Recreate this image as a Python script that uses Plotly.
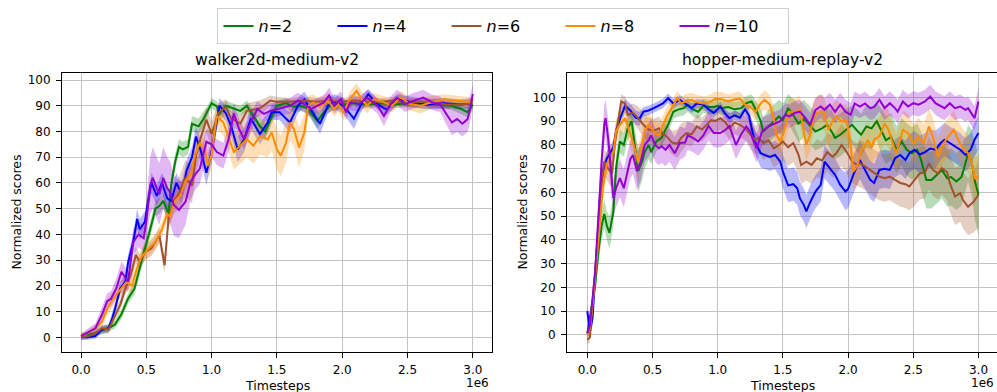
import plotly.graph_objects as go

# ---------------- data (timesteps in 1e6, normalized score, band half-width) ----------------
SERIES_NAMES = ["n=2", "n=4", "n=6", "n=8", "n=10"]
SERIES_LABELS = ["<i>n</i>=2", "<i>n</i>=4", "<i>n</i>=6", "<i>n</i>=8", "<i>n</i>=10"]
SERIES_COLORS = ["#008000", "#0000ff", "#a0522d", "#ff8c00", "#9400d3"]
SUBPLOT_TITLES = ["walker2d-medium-v2", "hopper-medium-replay-v2"]
X_TICKS = [0.0, 0.5, 1.0, 1.5, 2.0, 2.5, 3.0]
X_TICK_LABELS = ["0.0", "0.5", "1.0", "1.5", "2.0", "2.5", "3.0"]
Y_TICKS = [0, 10, 20, 30, 40, 50, 60, 70, 80, 90, 100]

W_N2 = [(0.00, 0.5, 1), (0.05, 1, 1), (0.10, 1.5, 1), (0.15, 2.5, 1.5), (0.21, 3.5, 1.5), (0.26, 5, 1.5),
        (0.31, 9, 2), (0.36, 15, 2), (0.41, 19, 2.5), (0.46, 29, 3), (0.50, 36, 3), (0.53, 42, 3),
        (0.57, 50, 3), (0.60, 51, 3), (0.63, 53, 3), (0.67, 48, 3), (0.69, 59, 3), (0.72, 68, 3),
        (0.75, 74, 3), (0.78, 73, 3), (0.82, 74, 3), (0.85, 83, 3), (0.90, 82, 3), (0.94, 85, 3),
        (0.97, 88, 2), (1.00, 91, 2), (1.04, 89.7, 2), (1.06, 87, 2), (1.11, 90, 2), (1.16, 89, 2),
        (1.22, 88, 2), (1.27, 90, 2), (1.32, 86, 2.5), (1.37, 82, 3), (1.41, 80, 3), (1.45, 84.5, 3),
        (1.50, 90, 2), (1.57, 91, 2), (1.63, 89.5, 2), (1.68, 90, 2), (1.73, 89, 2), (1.81, 84, 3),
        (1.86, 87.5, 2), (1.91, 90, 2), (2.00, 90.5, 1.5), (2.10, 91, 1.5), (2.20, 90.5, 1.5),
        (2.30, 91, 1.5), (2.40, 90.5, 1.5), (2.50, 91, 1.5), (2.60, 90.5, 1.5), (2.70, 90.5, 1.5),
        (2.83, 90, 1.5), (2.90, 89, 2), (2.96, 87.5, 2), (3.00, 90.5, 2)]

W_N4 = [(0.00, 0, 1), (0.05, 0, 1), (0.11, 0.5, 1), (0.16, 3, 1.5), (0.21, 3.5, 1.5), (0.24, 7.5, 2),
        (0.26, 11, 2), (0.30, 19, 2.5), (0.34, 21.6, 3), (0.36, 29, 3), (0.40, 37, 3.5), (0.43, 46, 4),
        (0.45, 42, 4), (0.49, 45, 4), (0.52, 55, 4), (0.54, 60, 4), (0.58, 55, 4), (0.62, 60, 4),
        (0.66, 54, 4), (0.69, 53, 4), (0.73, 60, 4), (0.77, 56, 4), (0.81, 65, 4), (0.85, 70, 4),
        (0.88, 78, 4), (0.92, 72, 4), (0.96, 64, 5), (1.00, 72, 4), (1.04, 84, 3), (1.06, 90, 3),
        (1.11, 87, 3), (1.15, 82, 4), (1.20, 73, 5), (1.25, 77, 5), (1.30, 85, 4), (1.37, 79, 4),
        (1.43, 83.5, 4), (1.46, 87.5, 3), (1.52, 87.5, 3), (1.60, 83.5, 4), (1.66, 90, 3),
        (1.71, 92.5, 3), (1.76, 88.5, 3), (1.83, 83, 4), (1.89, 90, 3), (1.94, 91.5, 3), (2.01, 90, 3),
        (2.09, 85, 4), (2.14, 90, 3), (2.20, 94.5, 2), (2.27, 90.5, 2), (2.34, 88.5, 2), (2.42, 92.5, 2),
        (2.52, 91.5, 2), (2.65, 90.5, 2), (2.78, 91, 2), (2.90, 90.5, 2), (3.00, 91, 2)]

W_N6 = [(0.00, 0, 1), (0.06, 0.5, 1), (0.11, 1.5, 1), (0.16, 3.5, 1.5), (0.21, 3, 1.5), (0.26, 8.7, 2),
        (0.30, 12.6, 2), (0.34, 19, 2.5), (0.38, 24, 3), (0.42, 32, 3), (0.45, 29.4, 3), (0.49, 33, 3),
        (0.54, 34.6, 3), (0.60, 39.7, 3), (0.62, 33, 3), (0.64, 28, 3), (0.67, 46, 4), (0.71, 53, 5),
        (0.75, 56, 6), (0.80, 62, 7), (0.85, 59, 7), (0.88, 70.5, 7), (0.92, 78, 6), (0.96, 84.6, 5),
        (1.00, 79, 5), (1.05, 87, 4), (1.11, 89.6, 3), (1.15, 85, 3), (1.22, 83, 3), (1.27, 88, 3),
        (1.37, 89, 3), (1.45, 92, 2), (1.50, 91.5, 2), (1.60, 91.5, 1.5), (1.70, 92, 1.5),
        (1.80, 91.5, 1.5), (1.90, 92, 1.5), (2.00, 91.5, 1.5), (2.10, 92, 1.5), (2.20, 91.5, 1.5),
        (2.30, 91.5, 1.5), (2.40, 92, 1.5), (2.50, 91, 1.5), (2.60, 91.5, 1.5), (2.70, 91, 1.5),
        (2.80, 90.5, 1.5), (2.90, 90.5, 1.5), (3.00, 91, 1.5)]

W_N8 = [(0.00, 1, 1), (0.03, 1, 1), (0.11, 3.5, 1.5), (0.16, 6, 2), (0.20, 11, 2.5), (0.23, 14, 3),
        (0.27, 16.5, 3), (0.31, 19, 3), (0.35, 21.6, 3), (0.39, 20, 3), (0.43, 27, 3), (0.46, 31, 3),
        (0.52, 34.6, 3), (0.57, 37, 3), (0.62, 42, 3), (0.66, 48, 3), (0.68, 47, 3), (0.72, 53, 3),
        (0.76, 55, 3), (0.80, 60.6, 3), (0.84, 63, 3), (0.87, 70.5, 3), (0.91, 75.6, 3), (0.95, 73, 4),
        (0.97, 66.6, 5), (1.00, 71, 5), (1.04, 86, 5), (1.09, 83.5, 5), (1.13, 78, 6), (1.17, 72, 7),
        (1.22, 74.5, 7), (1.27, 77, 7), (1.32, 74.5, 7), (1.37, 78, 7), (1.43, 77, 7), (1.46, 79.6, 7),
        (1.50, 73, 8), (1.53, 70.6, 8), (1.57, 75.7, 8), (1.60, 83.5, 7), (1.63, 81, 7), (1.67, 73.8, 8),
        (1.71, 79.6, 7), (1.74, 90, 4), (1.78, 91.3, 3), (1.83, 89.5, 3), (1.89, 92, 3), (1.94, 88.7, 3),
        (1.97, 90.6, 3), (2.01, 87.5, 3), (2.06, 92.5, 3), (2.11, 95.8, 3), (2.15, 92.5, 3), (2.19, 90, 3),
        (2.24, 92.5, 2.5), (2.32, 91.3, 2.5), (2.38, 90, 2.5), (2.45, 93.2, 2.5), (2.52, 90.6, 2.5),
        (2.60, 90, 3), (2.68, 91.3, 2.5), (2.78, 92.5, 2), (2.90, 91.8, 2), (3.00, 91.3, 2)]

W_N10 = [(0.00, 0.5, 1), (0.06, 2, 1.5), (0.11, 3.5, 2), (0.16, 8.7, 3), (0.20, 14, 3), (0.23, 15, 3),
         (0.27, 19, 4), (0.31, 25.5, 4), (0.34, 23, 4), (0.36, 21.6, 4), (0.40, 37, 5), (0.44, 40, 5),
         (0.48, 38.5, 5), (0.50, 45, 7), (0.53, 59, 11), (0.55, 62, 12), (0.58, 58, 12), (0.60, 55.6, 12),
         (0.63, 62, 12), (0.66, 58, 12), (0.68, 56.6, 12), (0.71, 51.5, 12), (0.75, 49.5, 11),
         (0.80, 52.7, 9), (0.84, 60.5, 7), (0.87, 63, 6), (0.91, 65.6, 6), (0.96, 76, 5), (1.00, 75, 5),
         (1.04, 72, 5), (1.09, 70.6, 5), (1.13, 77, 5), (1.17, 87, 4), (1.21, 81, 4), (1.25, 77, 4),
         (1.30, 83.5, 4), (1.35, 88.7, 3), (1.40, 86.8, 3), (1.45, 88, 3), (1.53, 89, 3), (1.60, 90, 3),
         (1.66, 92, 3), (1.71, 90.6, 3), (1.76, 88.7, 3), (1.81, 90, 3), (1.86, 91.3, 3), (1.90, 94, 3),
         (1.94, 90, 3), (1.99, 92.6, 3), (2.03, 87.4, 3), (2.06, 91.3, 3), (2.13, 90.6, 3), (2.19, 93.2, 3),
         (2.27, 90, 3), (2.32, 86, 4), (2.37, 90.6, 3), (2.42, 93.2, 3), (2.48, 90.6, 3), (2.55, 92, 3),
         (2.62, 93.2, 3), (2.69, 91.3, 3), (2.75, 90.6, 3), (2.79, 87.4, 4), (2.84, 83.5, 5),
         (2.88, 84.8, 5), (2.92, 83, 5), (2.96, 84.8, 5), (2.98, 88.7, 5), (3.00, 94.5, 4)]

H_N2 = [(0.00, 0.7, 2), (0.02, 7, 3), (0.06, 21, 4), (0.085, 35, 5), (0.11, 46, 6), (0.13, 51, 6),
        (0.15, 46, 6), (0.17, 43, 7), (0.20, 52, 6), (0.22, 70, 6), (0.25, 81.5, 5), (0.28, 80, 5),
        (0.31, 87, 5), (0.34, 90, 5), (0.37, 77, 7), (0.39, 69, 9), (0.42, 73, 8), (0.44, 77, 7),
        (0.47, 80, 6), (0.49, 77, 5), (0.53, 81.5, 4), (0.57, 83, 4), (0.60, 86.4, 4), (0.62, 88.5, 3),
        (0.66, 94, 3), (0.70, 95, 3), (0.74, 95.5, 3), (0.77, 97, 3), (0.81, 95, 3), (0.85, 94, 3),
        (0.89, 96.5, 3), (0.93, 96, 3), (0.97, 96, 3), (1.00, 96.5, 3), (1.03, 95.5, 3), (1.08, 96, 3),
        (1.13, 95, 3), (1.18, 95.5, 3), (1.22, 97.6, 3), (1.26, 98.3, 3), (1.30, 94, 4), (1.33, 90, 5),
        (1.35, 85.7, 6), (1.39, 87.8, 7), (1.43, 90, 7), (1.47, 92, 7), (1.50, 90.5, 7), (1.54, 95.5, 6),
        (1.58, 92.5, 7), (1.62, 89, 8), (1.66, 91, 8), (1.70, 88.5, 8), (1.75, 85.7, 8), (1.80, 87, 8),
        (1.84, 88.5, 8), (1.88, 85, 9), (1.90, 83, 9), (1.94, 84.3, 9), (1.98, 86, 9), (2.03, 88.5, 8),
        (2.07, 86, 9), (2.10, 84.3, 9), (2.14, 87.8, 9), (2.18, 87, 9), (2.22, 90, 8), (2.26, 85, 10),
        (2.29, 82, 10), (2.33, 83.5, 10), (2.37, 78, 10), (2.41, 81.5, 10), (2.45, 78, 11),
        (2.49, 76.5, 11), (2.53, 78, 11), (2.56, 73.7, 12), (2.60, 65.3, 12), (2.64, 65.3, 12),
        (2.68, 67.4, 12), (2.72, 69.5, 12), (2.76, 66, 12), (2.79, 66.5, 12), (2.83, 64.6, 12),
        (2.87, 66.5, 12), (2.90, 72.3, 12), (2.92, 76.5, 12), (2.95, 72.3, 14), (2.97, 65.3, 16),
        (3.00, 59, 17)]

H_N4 = [(0.00, 10, 3), (0.02, 1.4, 2), (0.04, 7, 3), (0.07, 35, 4), (0.10, 60, 4), (0.12, 69, 3),
        (0.15, 74.4, 3), (0.17, 76, 3), (0.20, 79, 3), (0.22, 85.7, 3), (0.25, 91, 3), (0.29, 96.5, 3),
        (0.33, 94.5, 3), (0.37, 91.5, 3), (0.40, 91, 3), (0.43, 94, 2), (0.47, 94.5, 2), (0.51, 95.5, 2),
        (0.54, 96.5, 2), (0.58, 97.5, 2), (0.62, 99.7, 2), (0.66, 97.5, 2), (0.71, 99, 2), (0.76, 97, 2),
        (0.80, 95.5, 2), (0.84, 97.5, 2), (0.89, 97, 2), (0.93, 95, 2), (0.97, 93.5, 2), (1.02, 96.2, 2),
        (1.06, 93, 2), (1.09, 91.3, 2), (1.13, 92.5, 2), (1.17, 91.5, 2), (1.21, 95, 2), (1.24, 92.5, 3),
        (1.26, 87, 4), (1.29, 80.8, 5), (1.33, 76.5, 6), (1.36, 75.8, 6), (1.40, 75, 6), (1.44, 75.8, 6),
        (1.48, 73, 7), (1.50, 68.8, 7), (1.54, 63, 7), (1.58, 63.5, 7), (1.61, 61.8, 7), (1.63, 57.6, 7),
        (1.66, 54.8, 7), (1.68, 52, 7), (1.71, 56, 7), (1.75, 60.4, 7), (1.79, 63.2, 7), (1.82, 73, 7),
        (1.86, 70.2, 7), (1.90, 67.4, 7), (1.94, 63.2, 7), (1.98, 60.4, 8), (2.00, 61.5, 8),
        (2.04, 67.4, 8), (2.09, 73.7, 8), (2.13, 69.5, 8), (2.17, 65.3, 8), (2.20, 64, 8), (2.24, 69.5, 8),
        (2.28, 70, 8), (2.32, 69.5, 8), (2.36, 74.4, 8), (2.40, 75.8, 8), (2.44, 73.7, 8), (2.47, 76.5, 8),
        (2.51, 78, 8), (2.55, 76, 8), (2.59, 77, 8), (2.63, 78.5, 8), (2.67, 78, 8), (2.71, 80.8, 7),
        (2.74, 82.2, 7), (2.78, 80.8, 7), (2.82, 79.4, 7), (2.86, 78, 7), (2.90, 75.8, 7), (2.94, 78, 7),
        (2.97, 82.2, 7), (3.00, 85, 7)]

H_N6 = [(0.00, -2, 2), (0.02, -1, 2), (0.06, 26.7, 4), (0.085, 46, 5), (0.11, 63, 5), (0.13, 73, 5),
        (0.16, 70, 6), (0.19, 68, 6), (0.21, 80, 5), (0.24, 91.3, 4), (0.26, 98.3, 3), (0.29, 97.5, 3),
        (0.31, 92.7, 4), (0.35, 93.5, 4), (0.39, 91.3, 5), (0.43, 88.5, 5), (0.47, 86.5, 5), (0.51, 86, 5),
        (0.55, 87, 5), (0.57, 85, 5), (0.61, 83.5, 5), (0.65, 81, 5), (0.69, 80.5, 6), (0.72, 83, 6),
        (0.76, 85, 5), (0.80, 84.5, 5), (0.84, 87.8, 5), (0.88, 86.5, 5), (0.92, 89, 5), (0.95, 90.5, 5),
        (0.98, 90, 5), (1.02, 91.3, 5), (1.06, 89.5, 5), (1.09, 87, 5), (1.13, 89.5, 5), (1.17, 88.5, 5),
        (1.21, 87, 5), (1.25, 84.3, 6), (1.29, 82, 6), (1.31, 83, 6), (1.35, 80.8, 7), (1.39, 82, 7),
        (1.43, 78.6, 8), (1.47, 80, 8), (1.50, 81.5, 8), (1.54, 79, 8), (1.58, 80.8, 8), (1.62, 75.8, 8),
        (1.64, 71.6, 8), (1.68, 73, 8), (1.72, 71.6, 8), (1.76, 74.4, 8), (1.80, 73.5, 8), (1.84, 77, 8),
        (1.88, 75, 9), (1.91, 76.5, 9), (1.95, 80, 9), (1.99, 77, 9), (2.03, 73, 9), (2.07, 71.6, 9),
        (2.09, 72.3, 10), (2.13, 71, 10), (2.17, 69.5, 10), (2.20, 68, 10), (2.24, 66.7, 10),
        (2.28, 66, 10), (2.32, 66.7, 10), (2.36, 65.3, 10), (2.40, 64, 10), (2.44, 63.5, 10),
        (2.47, 62.5, 10), (2.51, 65.3, 11), (2.55, 68, 11), (2.59, 68.5, 11), (2.62, 72.3, 11),
        (2.65, 69.5, 11), (2.69, 68, 11), (2.72, 70.2, 11), (2.76, 68.5, 12), (2.78, 64, 12),
        (2.82, 58.3, 12), (2.86, 59.7, 12), (2.88, 56.9, 12), (2.92, 54, 12), (2.96, 56, 13),
        (3.00, 59, 14)]

H_N8 = [(0.00, 0, 2), (0.02, 3, 2), (0.05, 18, 3), (0.07, 32, 4), (0.10, 49, 4), (0.12, 62, 5),
        (0.15, 72, 5), (0.17, 74, 5), (0.20, 77, 5), (0.22, 85.7, 5), (0.25, 88.5, 5), (0.29, 91.3, 5),
        (0.31, 88, 5), (0.34, 83, 6), (0.37, 77, 6), (0.39, 72.5, 7), (0.42, 80, 6), (0.44, 85.7, 6),
        (0.47, 88.5, 5), (0.49, 87, 5), (0.52, 85, 5), (0.55, 84, 5), (0.58, 88.5, 4), (0.61, 92, 4),
        (0.65, 96, 3), (0.69, 99.7, 3), (0.72, 97.5, 3), (0.76, 98.5, 3), (0.80, 99, 3), (0.84, 98, 3),
        (0.89, 97.5, 3), (0.94, 98, 3), (0.98, 99.5, 3), (1.03, 99.3, 3), (1.08, 98.3, 3), (1.12, 99, 3),
        (1.17, 99.5, 3), (1.21, 97, 3), (1.25, 96, 3), (1.29, 94, 4), (1.33, 97.5, 4), (1.36, 99, 4),
        (1.40, 97, 4), (1.43, 91.3, 5), (1.45, 84.3, 6), (1.48, 81.5, 6), (1.50, 84.3, 6), (1.53, 90, 6),
        (1.55, 94, 6), (1.59, 93.5, 6), (1.63, 95, 6), (1.66, 85.7, 7), (1.68, 80, 7), (1.71, 84.3, 7),
        (1.73, 91.3, 7), (1.77, 94, 7), (1.81, 94, 7), (1.85, 86.4, 7), (1.88, 90, 7), (1.91, 92, 7),
        (1.95, 90, 7), (1.99, 90, 7), (2.02, 80, 8), (2.04, 68.8, 8), (2.07, 71, 8), (2.10, 78, 8),
        (2.13, 79.4, 8), (2.15, 82.2, 8), (2.18, 79, 8), (2.20, 82.2, 8), (2.24, 83.6, 8), (2.28, 89, 8),
        (2.31, 86.4, 8), (2.35, 79.4, 8), (2.37, 76.5, 8), (2.40, 82.2, 8), (2.42, 86.4, 8), (2.46, 85, 8),
        (2.50, 80.6, 8), (2.54, 83.5, 8), (2.58, 80.6, 8), (2.62, 87.8, 8), (2.65, 83.5, 8), (2.69, 75, 8),
        (2.73, 80.6, 8), (2.77, 83.6, 8), (2.81, 86.4, 8), (2.85, 81.5, 8), (2.88, 78.6, 8),
        (2.92, 76.5, 8), (2.95, 72.3, 9), (2.97, 66, 9), (3.00, 66.7, 9)]

H_N10 = [(0.00, 0.7, 2), (0.02, 4, 3), (0.06, 26.7, 4), (0.085, 52, 6), (0.11, 73, 8), (0.13, 88.5, 8),
         (0.14, 91.3, 8), (0.16, 82.9, 8), (0.18, 68.8, 8), (0.20, 57.6, 8), (0.22, 61.8, 8), (0.25, 66, 8),
         (0.28, 61.8, 8), (0.30, 67, 8), (0.33, 74, 8), (0.35, 75.8, 8), (0.38, 69, 8), (0.41, 73, 8),
         (0.44, 80, 7), (0.47, 82, 7), (0.49, 84, 7), (0.52, 80, 7), (0.55, 78.6, 7), (0.57, 79.5, 7),
         (0.60, 78, 7), (0.63, 80, 7), (0.67, 76.5, 7), (0.71, 80.8, 7), (0.75, 81, 6), (0.77, 84, 6),
         (0.81, 83, 6), (0.85, 81.5, 6), (0.89, 84, 6), (0.93, 88, 6), (0.97, 85, 6), (1.02, 85, 6),
         (1.06, 86.4, 6), (1.09, 88, 6), (1.14, 80, 6), (1.18, 84.5, 6), (1.22, 87.8, 6), (1.25, 85.7, 6),
         (1.27, 82.2, 6), (1.30, 78.6, 6), (1.34, 85.7, 6), (1.39, 87.8, 5), (1.44, 89.2, 5), (1.48, 90, 5),
         (1.52, 92.7, 5), (1.55, 92, 5), (1.59, 93.5, 5), (1.63, 94, 5), (1.67, 91.5, 5), (1.71, 88.5, 5),
         (1.75, 94.8, 5), (1.79, 96.2, 5), (1.82, 94.8, 5), (1.86, 97, 5), (1.90, 94, 5), (1.94, 97, 5),
         (1.98, 94, 5), (2.02, 92.7, 5), (2.05, 97.5, 5), (2.09, 96.2, 5), (2.13, 97.5, 5), (2.17, 95.5, 5),
         (2.20, 96, 5), (2.24, 99, 5), (2.28, 95.5, 5), (2.32, 97.6, 5), (2.36, 95.5, 5), (2.38, 94, 5),
         (2.42, 98.3, 5), (2.46, 96.2, 5), (2.50, 97.6, 5), (2.54, 97, 5), (2.59, 98.3, 5), (2.63, 100.4, 5),
         (2.67, 97.6, 5), (2.71, 96.2, 5), (2.74, 95.5, 5), (2.78, 97.6, 5), (2.82, 95.5, 5), (2.86, 96.2, 5),
         (2.90, 94.8, 5), (2.92, 95.5, 5), (2.95, 92.7, 5), (2.97, 91.3, 5), (3.00, 98.3, 6)]

WALKER = [W_N2, W_N4, W_N6, W_N8, W_N10]
HOPPER = [H_N2, H_N4, H_N6, H_N8, H_N10]

# ---------------- figure ----------------
FIG_W, FIG_H = 997, 392
FONT = "DejaVu Sans"


def fx(p):
    return p / FIG_W


def fy(p):
    return 1 - p / FIG_H


def rgba(hex_color, a):
    h = hex_color.lstrip("#")
    return "rgba(%d,%d,%d,%.2f)" % (int(h[0:2], 16), int(h[2:4], 16), int(h[4:6], 16), a)


fig = go.Figure()

panels = [("x", "y", WALKER, True), ("x2", "y2", HOPPER, False)]
# bands first (below all lines)
for xa, ya, group, _ in panels:
    for data, color in zip(group, SERIES_COLORS):
        t = [p[0] for p in data]
        up = [p[1] + p[2] for p in data]
        lo = [p[1] - p[2] for p in data]
        fig.add_trace(go.Scatter(x=t + t[::-1], y=up + lo[::-1], fill="toself",
                                 fillcolor=rgba(color, 0.28), line=dict(width=0),
                                 mode="lines", hoverinfo="skip", showlegend=False,
                                 xaxis=xa, yaxis=ya))
for xa, ya, group, show in panels:
    for data, color, label in zip(group, SERIES_COLORS, SERIES_LABELS):
        fig.add_trace(go.Scatter(x=[p[0] for p in data], y=[p[1] for p in data], mode="lines",
                                 line=dict(color=color, width=2), name=label, showlegend=show,
                                 xaxis=xa, yaxis=ya))

axis_common = dict(showline=True, linecolor="black", linewidth=1, ticks="outside", ticklen=5,
                   tickwidth=1, tickcolor="black", showgrid=True, gridcolor="#c4c4c4", gridwidth=1,
                   zeroline=False, tickfont=dict(family=FONT, size=12, color="black"))

L_X0, L_X1, R_X0, R_X1 = 62, 492, 567, 997
Y_TOP, Y_BOT = 73, 352

fig.update_layout(
    width=FIG_W, height=FIG_H, margin=dict(l=0, r=0, t=0, b=0, autoexpand=False),
    paper_bgcolor="white", plot_bgcolor="white",
    font=dict(family=FONT, size=12, color="black"),
    xaxis=dict(domain=[fx(L_X0), fx(L_X1)], range=[-0.1455, 3.147], anchor="y", mirror=True,
               tickvals=X_TICKS, ticktext=X_TICK_LABELS, ticklabelstandoff=2, **axis_common),
    yaxis=dict(domain=[fy(Y_BOT), fy(Y_TOP)], range=[-5.71, 102.72], anchor="x", mirror=True,
               tickvals=Y_TICKS, ticklabelstandoff=3, **axis_common),
    xaxis2=dict(domain=[fx(R_X0), fx(R_X1)], range=[-0.1557, 3.142], anchor="y2", mirror=True,
                tickvals=X_TICKS, ticktext=X_TICK_LABELS, ticklabelstandoff=2, **axis_common),
    yaxis2=dict(domain=[fy(Y_BOT), fy(Y_TOP)], range=[-7.16, 110.3], anchor="x2", mirror=False,
                tickvals=Y_TICKS, ticklabelstandoff=3, **axis_common),
    legend=dict(orientation="h", xref="container", yref="container", x=0.505, y=fy(8),
                xanchor="center", yanchor="top", bgcolor="white", bordercolor="#d0d0d0",
                borderwidth=1, font=dict(family=FONT, size=16, color="black"),
                entrywidth=69, entrywidthmode="pixels", tracegroupgap=0),
    showlegend=True,
)

annotations = []
for (x0, x1), title in zip([(L_X0, L_X1), (R_X0, R_X1)], SUBPLOT_TITLES):
    cx = (x0 + x1) / 2
    annotations.append(dict(text=title, x=fx(cx), y=fy(60), xref="paper", yref="paper",
                            xanchor="center", yanchor="middle", showarrow=False,
                            font=dict(family=FONT, size=15.5, color="black")))
    annotations.append(dict(text="Timesteps", x=fx(cx), y=fy(385), xref="paper", yref="paper",
                            xanchor="center", yanchor="middle", showarrow=False,
                            font=dict(family=FONT, size=12.5, color="black")))
    annotations.append(dict(text="1e6", x=fx(x1 - 1), y=fy(383), xref="paper", yref="paper",
                            xanchor="right", yanchor="middle", showarrow=False,
                            font=dict(family=FONT, size=12, color="black")))
for lx in (16, 522):
    annotations.append(dict(text="Normalized scores", x=fx(lx), y=fy((Y_TOP + Y_BOT) / 2),
                            xref="paper", yref="paper", xanchor="center", yanchor="middle",
                            textangle=-90, showarrow=False,
                            font=dict(family=FONT, size=12.5, color="black")))
fig.update_layout(annotations=annotations)

fig.write_html("out.html", config={"displayModeBar": False},
               post_script="document.body.style.margin='0px';document.body.style.overflow='hidden';")
